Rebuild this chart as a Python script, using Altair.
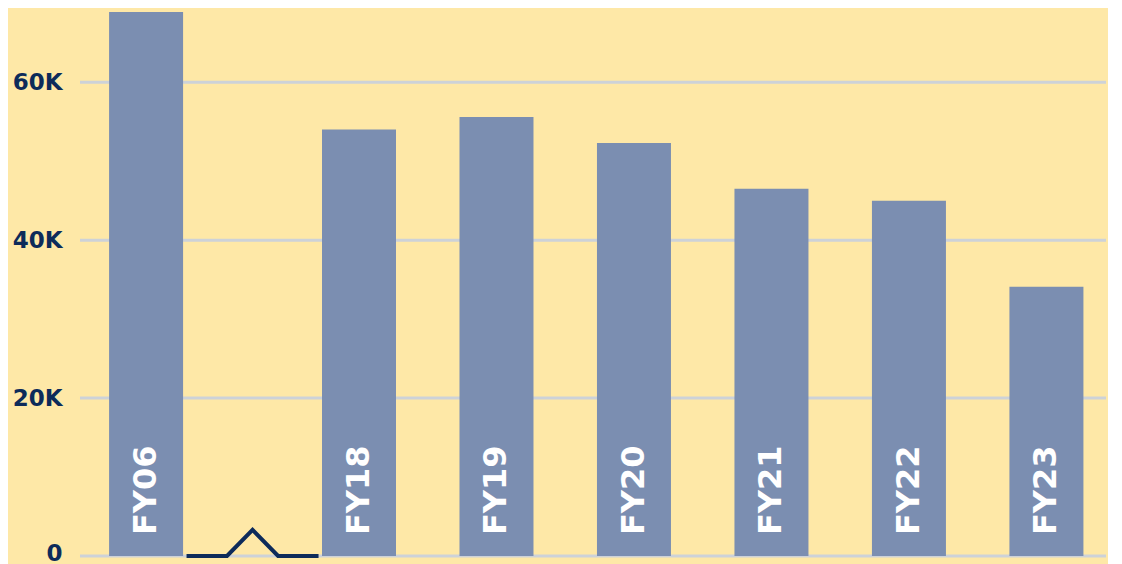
import altair as alt
import pandas as pd

# Data
years = ["FY06", "FY18", "FY19", "FY20", "FY21", "FY22", "FY23"]
values = [68900, 54000, 55600, 52300, 46500, 45000, 34100]

# Axis-break marker between FY06 (slot 0) and FY18 (slot 1), in slot units / data units
break_slots = [0.19, 0.38, 0.5, 0.62, 0.81]
break_values = [0, 0, 3300, 0, 0]

y_ticks = [0, 20000, 40000, 60000]

BG = "#FEE8A7"
BAR = "#7B8EB1"
NAVY = "#0D2B5A"
GRID = "#CDD2D8"

W = 1026
H = 548

df = pd.DataFrame({"year": years, "value": values, "slot": list(range(len(years)))})
brk = pd.DataFrame({"slot": break_slots, "value": break_values, "order": list(range(len(break_slots)))})
grid_df = pd.DataFrame({"value": y_ticks})

x_scale = alt.Scale(domain=[0, 1, 6], range=[59, 279, 971], nice=False, zero=False)
y_scale = alt.Scale(domain=[0, 69400], nice=False, zero=True)

y_axis = alt.Axis(
    values=y_ticks,
    labelExpr="datum.value == 0 ? '0' : (datum.value / 1000) + 'K'",
    title=None,
    domain=False,
    ticks=False,
    grid=False,
    labelFont="DejaVu Sans",
    labelFontWeight="bold",
    labelFontSize=23,
    labelColor=NAVY,
    labelPadding=18,
    labelOffset={"condition": {"test": "datum.value == 0", "value": -3}, "value": 0},
    minExtent=72,
    maxExtent=72,
)

grid = alt.Chart(grid_df).mark_rule(color=GRID, strokeWidth=3).encode(
    y=alt.Y("value:Q", scale=y_scale, axis=y_axis),
    x=alt.value(0),
    x2=alt.value(W),
)

base = alt.Chart(df)

bars = base.mark_bar(color=BAR, size=74).encode(
    x=alt.X("slot:Q", scale=x_scale, axis=None),
    y=alt.Y("value:Q", scale=y_scale),
)

labels = base.mark_text(
    angle=270,
    align="left",
    baseline="middle",
    dx=21,
    color="white",
    font="DejaVu Sans",
    fontWeight="bold",
    fontSize=32,
).encode(
    x=alt.X("slot:Q", scale=x_scale, axis=None),
    y=alt.YDatum(0),
    text="year:N",
)

break_line = alt.Chart(brk).mark_line(color=NAVY, strokeWidth=4, strokeJoin="miter").encode(
    x=alt.X("slot:Q", scale=x_scale, axis=None),
    y=alt.Y("value:Q", scale=y_scale),
    order="order:Q",
)

chart = (
    alt.layer(grid, bars, labels, break_line)
    .properties(width=W, height=H, background=BG, padding={"left": 0, "top": 0, "right": 0, "bottom": 0})
    .configure_view(stroke=None)
)

chart.save("out.html", embed_options={"renderer": "svg", "actions": False})
